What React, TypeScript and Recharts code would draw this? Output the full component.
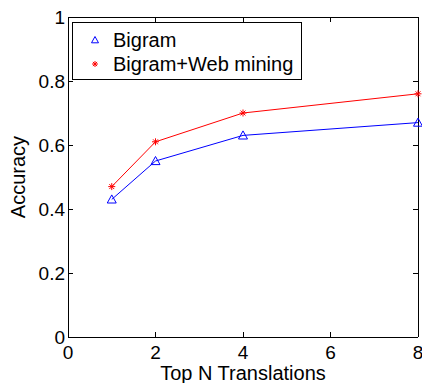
import { LineChart, Line, XAxis, YAxis, ReferenceLine } from 'recharts';

const topN = [1, 2, 4, 8];
const bigram = [0.43, 0.55, 0.63, 0.67];
const bigramWeb = [0.47, 0.61, 0.7, 0.76];
const xTicks = [0, 2, 4, 6, 8];
const yTicks = [0, 0.2, 0.4, 0.6, 0.8, 1];

const FONT = '"Liberation Sans", Arial, sans-serif';
const AXIS = '#000';
const TICK_LEN = 5;

const W = 422;
const H = 383;
const MARGIN = { top: 17, right: 4, bottom: 6, left: 8 };
const Y_AXIS_W = 60;
const X_AXIS_H = 40;
const PLOT_W = W - MARGIN.left - MARGIN.right - Y_AXIS_W;
const PLOT_H = H - MARGIN.top - MARGIN.bottom - X_AXIS_H;

const data = topN.map((n, i) => ({ n, bigram: bigram[i], web: bigramWeb[i] }));

const crisp = { shapeRendering: 'crispEdges' as const };
const axisLine = { stroke: AXIS, strokeWidth: 1, ...crisp };

function Triangle({ cx, cy, r = 4.5 }: { cx: number; cy: number; r?: number }) {
  return (
    <polygon
      points={`${cx},${cy - r} ${cx - r},${cy + r * 0.8} ${cx + r},${cy + r * 0.8}`}
      fill="none"
      stroke="#0000ff"
      strokeWidth={1}
    />
  );
}

function Star({ cx, cy, r = 3.5 }: { cx: number; cy: number; r?: number }) {
  const d = r * 0.7;
  return (
    <g stroke="#ff0000" strokeWidth={1}>
      <line x1={cx - r} y1={cy} x2={cx + r} y2={cy} />
      <line x1={cx} y1={cy - r} x2={cx} y2={cy + r} />
      <line x1={cx - d} y1={cy - d} x2={cx + d} y2={cy + d} />
      <line x1={cx - d} y1={cy + d} x2={cx + d} y2={cy - d} />
    </g>
  );
}

// MATLAB-style inward ticks on all four sides; tickSize=0/tickMargin=0 puts x,y on the axis line
const BottomTick = ({ x, y, payload }: any) => (
  <g>
    <path d={`M${x},${y}V${y - TICK_LEN}M${x},${y - PLOT_H}V${y - PLOT_H + TICK_LEN}`} stroke={AXIS} fill="none" style={crisp} />
    <text x={x} y={y + 22} textAnchor="middle" fontSize={19} fontFamily={FONT} fill="#000">
      {payload.value}
    </text>
  </g>
);

const LeftTick = ({ x, y, payload }: any) => (
  <g>
    <path d={`M${x},${y}H${x + TICK_LEN}M${x + PLOT_W},${y}H${x + PLOT_W - TICK_LEN}`} stroke={AXIS} fill="none" style={crisp} />
    <text x={x - 3} y={y} dy="0.36em" textAnchor="end" fontSize={19} fontFamily={FONT} fill="#000">
      {payload.value}
    </text>
  </g>
);

const legendItems = [
  { name: 'Bigram', marker: 'tri' },
  { name: 'Bigram+Web mining', marker: 'star' },
];

function ChartLegend() {
  return (
    <div
      style={{
        position: 'absolute',
        left: 72,
        top: 22,
        width: 230,
        height: 58,
        boxSizing: 'border-box',
        border: `1px solid ${AXIS}`,
        background: '#fff',
        fontFamily: FONT,
        fontSize: 20,
      }}
    >
      {legendItems.map((item, i) => (
        <div
          key={item.name}
          style={{ position: 'absolute', left: 0, top: 5 + i * 24, height: 24, display: 'flex', alignItems: 'center' }}
        >
          <svg width={40} height={24} style={{ display: 'block' }}>
            {item.marker === 'tri' ? <Triangle cx={22} cy={12} r={3.5} /> : <Star cx={22} cy={12} r={3} />}
          </svg>
          <span style={{ lineHeight: '24px', whiteSpace: 'nowrap' }}>{item.name}</span>
        </div>
      ))}
    </div>
  );
}

export default function App() {
  return (
    <div style={{ position: 'absolute', left: 0, top: 0, width: W, height: H, background: '#fff' }}>
      <LineChart width={W} height={H} data={data} margin={MARGIN}>
        <XAxis
          dataKey="n"
          type="number"
          domain={[0, 8]}
          ticks={xTicks}
          height={X_AXIS_H}
          tickSize={0}
          tickMargin={0}
          tickLine={false}
          axisLine={axisLine}
          tick={<BottomTick />}
          label={{
            content: ({ viewBox }: any) => (
              <text
                x={viewBox.x + viewBox.width / 2}
                y={380}
                textAnchor="middle"
                fontSize={20}
                fontFamily={FONT}
                fill="#000"
              >
                Top N Translations
              </text>
            ),
          }}
        />
        <YAxis
          type="number"
          domain={[0, 1]}
          ticks={yTicks}
          width={Y_AXIS_W}
          tickSize={0}
          tickMargin={0}
          tickLine={false}
          axisLine={axisLine}
          tick={<LeftTick />}
          label={{
            content: ({ viewBox }: any) => (
              <text
                x={25}
                y={viewBox.y + viewBox.height / 2}
                transform={`rotate(-90 25 ${viewBox.y + viewBox.height / 2})`}
                textAnchor="middle"
                fontSize={20}
                fontFamily={FONT}
                fill="#000"
              >
                Accuracy
              </text>
            ),
          }}
        />
        <ReferenceLine y={1} stroke={AXIS} style={crisp} />
        <ReferenceLine x={8} stroke={AXIS} style={crisp} />
        <Line
          dataKey="bigram"
          stroke="#0000ff"
          strokeWidth={1}
          isAnimationActive={false}
          dot={(p: any) => <Triangle key={`t${p.index}`} cx={p.cx} cy={p.cy} />}
        />
        <Line
          dataKey="web"
          stroke="#ff0000"
          strokeWidth={1}
          isAnimationActive={false}
          dot={(p: any) => <Star key={`s${p.index}`} cx={p.cx} cy={p.cy} />}
        />
      </LineChart>
      <ChartLegend />
    </div>
  );
}
